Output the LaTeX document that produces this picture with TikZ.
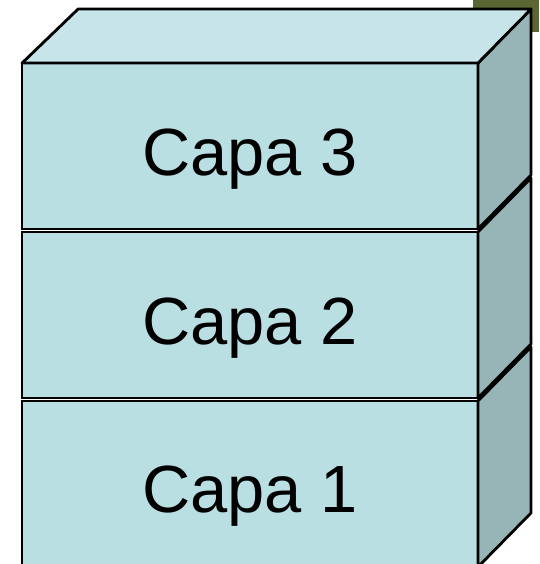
\documentclass[tikz,border=0pt]{standalone}
\usepackage{fontspec}
\setmainfont{Liberation Sans}
\usetikzlibrary{positioning}

\definecolor{frontblue}{HTML}{B9DFE3}
\definecolor{topblue}{HTML}{C7E5E8}
\definecolor{sidegray}{HTML}{97B5B6}
\definecolor{olive}{HTML}{5A6634}

\begin{document}
\begin{tikzpicture}[
x=0.02cm, y=-0.02cm,
node distance=0.06cm,
layer/.style={draw, line width=1.6pt, fill=frontblue, minimum width=9.12cm, minimum height=3.32cm, outer sep=0pt, inner sep=0pt, text height=1.16cm, text depth=0pt, font=\fontsize{38}{45}\selectfont},
face/.style={draw, line width=1.6pt, line join=round}
]
\useasboundingbox (0,0) rectangle (539,564);
\clip (0,0) rectangle (539,564);

% olive corner behind the stack
\fill[olive] (473,0) rectangle (539,32);

\node[layer] (capa1) at (250,484) {Capa 1};
\node[layer, above=of capa1] (capa2) {Capa 2};
\node[layer, above=of capa2] (capa3) {Capa 3};

% right faces
\foreach \c in {capa1, capa2, capa3}
  \draw[face, fill=sidegray] (\c.north east) -- ++(53,-54) -- ++(0,166) -- (\c.south east) -- cycle;

% top face
\draw[face, fill=topblue] (capa3.north west) -- ++(56,-54) -- ++(453,0) -- (capa3.north east) -- cycle;
\end{tikzpicture}
\end{document}
